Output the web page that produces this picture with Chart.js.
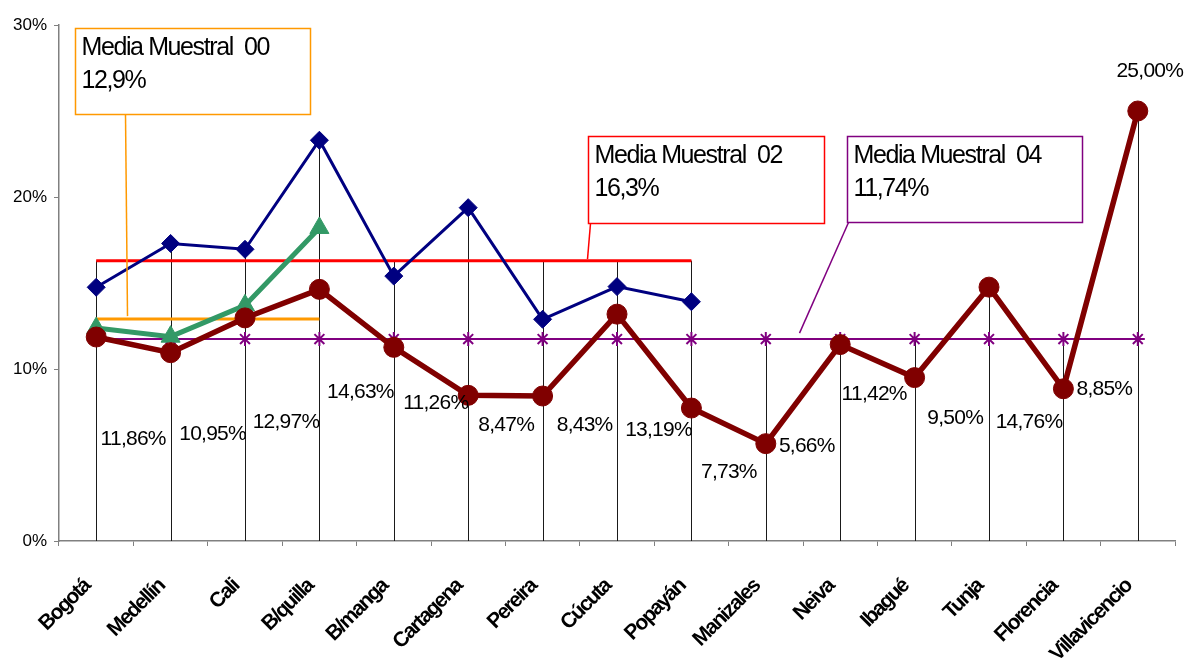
<!DOCTYPE html>
<html><head><meta charset="utf-8">
<script src="https://cdn.jsdelivr.net/npm/chart.js@4.4.1/dist/chart.umd.min.js"></script>
<style>html,body{margin:0;padding:0;background:#fff;}#wrap{width:1187px;height:663px;position:relative;}</style>
</head><body><div id="wrap"><canvas id="c"></canvas></div>
<script>
// ---- data ----
const categories = ['Bogotá','Medellín','Cali','B/quilla','B/manga','Cartagena','Pereira','Cúcuta','Popayán','Manizales','Neiva','Ibagué','Tunja','Florencia','Villavicencio'];
const serieAzul  = [14.75,17.3,16.96,23.3,15.4,19.38,12.89,14.79,13.91,null,null,null,null,null,null];
const serieVerde = [12.38,11.88,13.7,18.2,null,null,null,null,null,null,null,null,null,null,null];
const serie2004  = [11.86,10.95,12.97,14.63,11.26,8.47,8.43,13.19,7.73,5.66,11.42,9.50,14.76,8.85,25.00];
const media00 = 12.9, media00Cities = 4;
const media02 = 16.3, media02Cities = 9;
const media04 = 11.74;
const yTickValues = [0,10,20,30];
const boxTitles = ['Media Muestral  00','Media Muestral  02','Media Muestral  04'];

const fmt = (v,d) => v.toFixed(d).replace('.',',') + '%';
const FONT = '"Liberation Sans", Arial, sans-serif';
const fill = (v,n) => categories.map((c,i)=> i<n ? v : null);

// drop lines from highest value to the axis
const dropLines = {
  id:'dropLines',
  beforeDatasetsDraw(chart){
    const {ctx, scales:{x,y}} = chart;
    ctx.save(); ctx.strokeStyle='#1a1a1a'; ctx.lineWidth=1;
    categories.forEach((c,i)=>{
      let m=-Infinity;
      chart.data.datasets.forEach(ds=>{const v=ds.data[i]; if(v!=null && v>m) m=v;});
      if(m===-Infinity) return;
      const px=Math.round(x.getPixelForValue(i))+0.5;
      ctx.beginPath(); ctx.moveTo(px,y.getPixelForValue(m)); ctx.lineTo(px,y.getPixelForValue(0)); ctx.stroke();
    });
    ctx.restore();
  }
};

// labels, x category texts, callout boxes
const extras = {
  id:'extras',
  afterDraw(chart, args, opts){
    const {ctx, scales:{x,y}} = chart;
    // x category labels
    ctx.save();
    ctx.font='bold 21px '+FONT; ctx.letterSpacing='-1.6px'; ctx.fillStyle='#000';
    ctx.textAlign='right'; ctx.textBaseline='alphabetic';
    categories.forEach((c,i)=>{
      ctx.save(); ctx.translate(x.getPixelForValue(i)-5, y.bottom+opts.xLabelDrop); ctx.rotate(-Math.PI/4); ctx.fillText(c,0,0); ctx.restore();
    });
    ctx.restore();
    // data labels of the 2004 series
    ctx.save();
    ctx.font='21px '+FONT; ctx.letterSpacing='-0.75px'; ctx.fillStyle='#000';
    ctx.textAlign='center'; ctx.textBaseline='alphabetic';
    serie2004.forEach((v,i)=>{
      const o=opts.labelOffsets[i];
      ctx.fillText(fmt(v,2), x.getPixelForValue(i)+o[0], y.getPixelForValue(v)+o[1]+7.5);
    });
    ctx.restore();
    // callout boxes
    const means=[[media00,1],[media02,1],[media04,2]];
    opts.boxes.forEach((b,k)=>{
      ctx.save();
      ctx.strokeStyle=b.color; ctx.lineWidth=1.5; ctx.fillStyle='#fff';
      ctx.beginPath(); ctx.moveTo(b.lx1,b.y+b.h); ctx.lineTo(b.lx2, y.getPixelForValue(means[k][0])-b.gap); ctx.stroke();
      ctx.fillRect(b.x,b.y,b.w,b.h); ctx.strokeRect(b.x,b.y,b.w,b.h);
      ctx.font='25px '+FONT; ctx.letterSpacing='-1.4px'; ctx.fillStyle='#000'; ctx.textAlign='left'; ctx.textBaseline='alphabetic';
      ctx.fillText(boxTitles[k], b.x+6, b.y+26);
      ctx.fillText(fmt(means[k][0],means[k][1]), b.x+6, b.y+59);
      ctx.restore();
    });
  }
};

new Chart(document.getElementById('c'), {
  type:'line',
  data:{
    labels:categories,
    datasets:[
      {data:serie2004, borderColor:'#800000', backgroundColor:'#800000', borderWidth:5.5,
       pointStyle:'circle', pointRadius:10, pointBackgroundColor:'#800000', pointBorderColor:'#800000', pointBorderWidth:1},
      {data:serieVerde, borderColor:'#339966', backgroundColor:'#339966', borderWidth:5,
       pointStyle:'triangle', pointRadius:11, pointBackgroundColor:'#339966', pointBorderColor:'#339966', pointBorderWidth:1},
      {data:serieAzul, borderColor:'#000080', backgroundColor:'#000080', borderWidth:3,
       pointStyle:'rectRot', pointRadius:9, pointBackgroundColor:'#000080', pointBorderColor:'#000080', pointBorderWidth:1},
      {data:fill(media02,media02Cities), borderColor:'#FF0000', borderWidth:3, pointRadius:0},
      {data:fill(media00,media00Cities), borderColor:'#FF9900', borderWidth:3, pointRadius:0},
      {data:fill(media04,categories.length), borderColor:'#800080', borderWidth:2,
       pointStyle:'star', pointRadius:7, pointBorderColor:'#800080', pointBackgroundColor:'#800080', pointBorderWidth:2}
    ]
  },
  options:{
    responsive:true, maintainAspectRatio:false, animation:false, events:[],
    layout:{padding:{top:25,right:11,left:0,bottom:0}},
    elements:{line:{tension:0}},
    plugins:{
      legend:{display:false}, tooltip:{enabled:false},
      extras:{
        xLabelDrop:46,
        labelOffsets:[[37,100],[42,80],[41,103],[41,101],[42,54],[38,28],[42,27],[41.5,114],[37.5,62],[41,1],[34,48],[40.6,39],[40,133],[41,-1],[12,-42]],
        boxes:[
          {x:75.5,y:28.5,w:235,h:86,color:'#FF9900',lx1:125.5,lx2:127.5,gap:3},
          {x:588.5,y:136.5,w:236,h:87,color:'#FF0000',lx1:590.5,lx2:587.5,gap:1.5},
          {x:847.5,y:136.5,w:235,h:86,color:'#800080',lx1:848.5,lx2:799.5,gap:6}
        ]
      }
    },
    scales:{
      x:{
        offset:true,
        grid:{offset:true, drawOnChartArea:false, drawTicks:true, tickLength:5, color:'#808080', lineWidth:1},
        border:{color:'#808080', width:1.5},
        ticks:{display:false},
        afterFit(s){ s.height=122; }
      },
      y:{
        min:0, max:30,
        afterBuildTicks(s){ s.ticks = yTickValues.map(v=>({value:v})); },
        grid:{drawOnChartArea:false, drawTicks:true, tickLength:5, color:'#808080', lineWidth:1},
        border:{color:'#808080', width:1.5},
        ticks:{padding:7, color:'#000', font:{family:FONT, size:17}, callback:v=>v+'%'},
        afterFit(s){ s.width=59; }
      }
    }
  },
  plugins:[dropLines, extras]
});
</script></body></html>
